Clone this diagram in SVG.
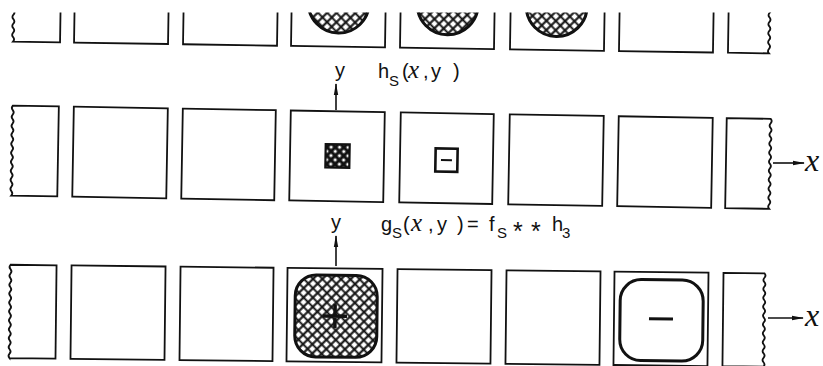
<svg xmlns="http://www.w3.org/2000/svg" width="823" height="366" viewBox="0 0 823 366">
<style>
.bx{fill:none;stroke:#111;stroke-width:1.8}
.lbl{font-family:"Liberation Sans",Arial,sans-serif;font-size:20px;fill:#111}
.mx{font-family:"Liberation Serif","DejaVu Serif",serif;font-style:italic;font-size:25px}
.bigx{font-family:"Liberation Serif","DejaVu Serif",serif;font-style:italic;font-size:32px}
.sub{font-size:15px}
.star{font-size:25px}
.ax{stroke:#111;stroke-width:1.6;fill:none}
.hv{stroke:#111;stroke-width:3;fill:url(#xh)}
.ol{stroke:#111;stroke-width:3;fill:none}
</style>
<defs>
<pattern id="xh" width="6.6" height="6.6" patternUnits="userSpaceOnUse" patternTransform="rotate(45)"><rect width="6.6" height="6.6" fill="#fff"/><path d="M0 3.3H6.6M3.3 0V6.6" stroke="#111" stroke-width="2.1"/></pattern>
<pattern id="xd" width="6" height="6" patternUnits="userSpaceOnUse" patternTransform="rotate(45)"><rect width="6" height="6" fill="#111"/><rect x="1.6" y="1.6" width="2.8" height="2.8" fill="#fff"/></pattern>
<marker id="ah" markerWidth="12" markerHeight="6" refX="11" refY="3" orient="auto" markerUnits="userSpaceOnUse"><path d="M0 0.8L12 3L0 5.2Z" fill="#111"/></marker>
<clipPath id="cp"><rect x="0" y="12.5" width="823" height="354"/></clipPath>
</defs>
<g clip-path="url(#cp)">
<g id="row-top" transform="rotate(0.89 411 47.8)">
<g id="t1"><path class="bx" d="M13 -42 q-2 2.245 0 4.49 t0 4.49 t0 4.49 t0 4.49 t0 4.49 t0 4.49 t0 4.49 t0 4.49 t0 4.49 t0 4.49 t0 4.49 t0 4.49 t0 4.49 t0 4.49 t0 4.49 t0 4.49 t0 4.49 t0 4.49 t0 4.49 t0 4.49 V47.8 H60 V-42 Z"/></g>
<g id="t2"><rect class="bx" x="74" y="-42" width="94" height="89.8"/></g>
<g id="t3"><rect class="bx" x="183" y="-42" width="94" height="89.8"/></g>
<g id="t4"><rect class="bx" x="291" y="-42" width="94" height="89.8"/><circle class="hv" cx="338" cy="3.7" r="30.5"/></g>
<g id="t5"><rect class="bx" x="400" y="-42" width="94" height="89.8"/><circle class="hv" cx="447" cy="3.7" r="30.5"/></g>
<g id="t6"><rect class="bx" x="510" y="-42" width="94" height="89.8"/><circle class="hv" cx="556" cy="3.7" r="30.5"/></g>
<g id="t7"><rect class="bx" x="619" y="-42" width="94" height="89.8"/></g>
<g id="t8"><path class="bx" d="M728 -42 H769 q2 2.245 0 4.49 t0 4.49 t0 4.49 t0 4.49 t0 4.49 t0 4.49 t0 4.49 t0 4.49 t0 4.49 t0 4.49 t0 4.49 t0 4.49 t0 4.49 t0 4.49 t0 4.49 t0 4.49 t0 4.49 t0 4.49 t0 4.49 t0 4.49 V47.8 H728 Z"/></g>
</g>
</g>
<g id="row-mid" transform="rotate(1.0 411 157.6)">
<g id="m1"><path class="bx" d="M12 112.6 q-2 2.25 0 4.5 t0 4.5 t0 4.5 t0 4.5 t0 4.5 t0 4.5 t0 4.5 t0 4.5 t0 4.5 t0 4.5 t0 4.5 t0 4.5 t0 4.5 t0 4.5 t0 4.5 t0 4.5 t0 4.5 t0 4.5 t0 4.5 t0 4.5 V202.6 H58 V112.6 Z"/></g>
<g id="m2"><rect class="bx" x="73" y="112.6" width="94" height="90"/></g>
<g id="m3"><rect class="bx" x="182" y="112.6" width="93" height="90"/></g>
<g id="m4"><rect class="bx" x="290" y="112.6" width="94" height="90"/><rect x="325.5" y="145.5" width="24" height="23.5" fill="url(#xd)" stroke="#111" stroke-width="2.2"/></g>
<g id="m5"><rect class="bx" x="400" y="112.6" width="93" height="90"/><rect x="435.5" y="148" width="22" height="23" fill="none" stroke="#111" stroke-width="2.6"/><path d="M441 159.5H452" stroke="#111" stroke-width="2"/></g>
<g id="m6"><rect class="bx" x="509" y="112.6" width="94" height="90"/></g>
<g id="m7"><rect class="bx" x="618" y="112.6" width="94" height="90"/></g>
<g id="m8"><path class="bx" d="M726 112.6 H770 q2 2.25 0 4.5 t0 4.5 t0 4.5 t0 4.5 t0 4.5 t0 4.5 t0 4.5 t0 4.5 t0 4.5 t0 4.5 t0 4.5 t0 4.5 t0 4.5 t0 4.5 t0 4.5 t0 4.5 t0 4.5 t0 4.5 t0 4.5 t0 4.5 V202.6 H726 Z"/></g>
</g>
<g id="row-bot" transform="rotate(0.65 411 316)">
<g id="b1"><path class="bx" d="M10 269.3 q-2 2.224 0 4.448 t0 4.448 t0 4.448 t0 4.448 t0 4.448 t0 4.448 t0 4.448 t0 4.448 t0 4.448 t0 4.448 t0 4.448 t0 4.448 t0 4.448 t0 4.448 t0 4.448 t0 4.448 t0 4.448 t0 4.448 t0 4.448 t0 4.448 t0 4.448 V362.7 H56 V269.3 Z"/></g>
<g id="b2"><rect class="bx" x="71" y="269.3" width="94" height="93.4"/></g>
<g id="b3"><rect class="bx" x="180" y="269.3" width="93" height="93.4"/></g>
<g id="b4"><rect class="bx" x="287" y="269.3" width="95" height="93.4"/><rect class="hv" x="295" y="276" width="82" height="82" rx="21"/><path d="M323 317H347M335 305V329" stroke="#111" stroke-width="3.5"/></g>
<g id="b5"><rect class="bx" x="397" y="269.3" width="94" height="93.4"/></g>
<g id="b6"><rect class="bx" x="506" y="269.3" width="94" height="93.4"/></g>
<g id="b7"><rect class="bx" x="614" y="269.3" width="94" height="93.4"/><rect class="ol" x="620" y="277" width="83" height="81" rx="21"/><path d="M649 316H673" stroke="#111" stroke-width="3"/></g>
<g id="b8"><path class="bx" d="M723 269.3 H764 q2 2.224 0 4.448 t0 4.448 t0 4.448 t0 4.448 t0 4.448 t0 4.448 t0 4.448 t0 4.448 t0 4.448 t0 4.448 t0 4.448 t0 4.448 t0 4.448 t0 4.448 t0 4.448 t0 4.448 t0 4.448 t0 4.448 t0 4.448 t0 4.448 t0 4.448 V362.7 H723 Z"/></g>
</g>
<g id="connectors">
<line class="ax" x1="336" y1="110" x2="336" y2="84" marker-end="url(#ah)"/>
<line class="ax" x1="336" y1="266" x2="336" y2="236" marker-end="url(#ah)"/>
<line class="ax" x1="773" y1="163" x2="804" y2="163" marker-end="url(#ah)"/>
<line class="ax" x1="768" y1="318" x2="803" y2="318" marker-end="url(#ah)"/>
</g>
<g id="labels" class="lbl">
<text x="335" y="77">y</text>
<text y="78"><tspan x="378">h</tspan><tspan class="sub" x="389" y="86">S</tspan><tspan x="402" y="78">(</tspan><tspan class="mx" x="408">x</tspan><tspan x="423">,</tspan><tspan x="431">y</tspan><tspan x="453">)</tspan></text>
<text x="331" y="229">y</text>
<text y="231"><tspan x="381">g</tspan><tspan class="sub" x="392" y="238">S</tspan><tspan x="403" y="231">(</tspan><tspan class="mx" x="411">x</tspan><tspan x="428">,</tspan><tspan x="437">y</tspan><tspan x="457">)</tspan><tspan x="467">=</tspan><tspan x="489">f</tspan><tspan class="sub" x="497" y="238">S</tspan><tspan class="star" x="513" y="240">*</tspan><tspan class="star" x="531">*</tspan><tspan x="552" y="231">h</tspan><tspan class="sub" x="562" y="238">3</tspan></text>
<text class="bigx" x="805" y="171">x</text>
<text class="bigx" x="805" y="326">x</text>
</g>
</svg>
